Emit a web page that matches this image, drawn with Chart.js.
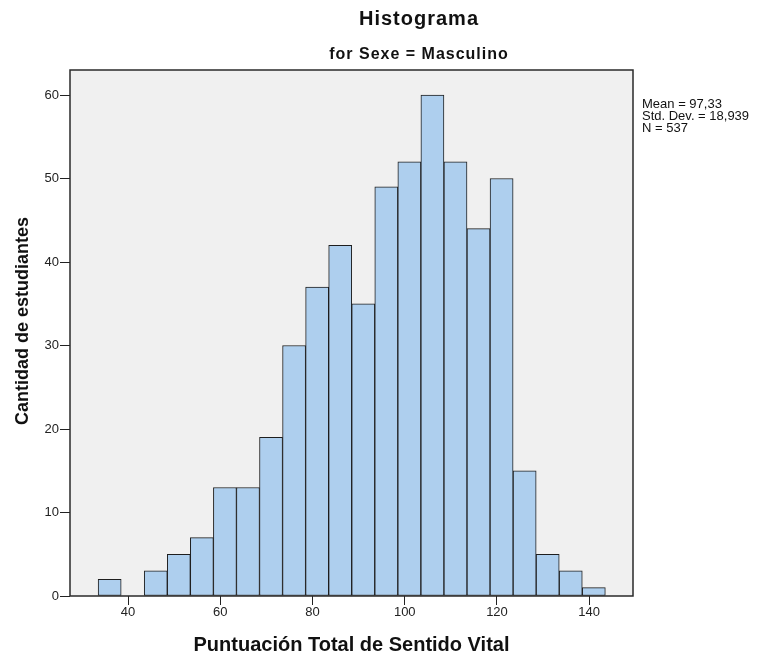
<!DOCTYPE html>
<html>
<head>
<meta charset="utf-8">
<script src="https://cdn.jsdelivr.net/npm/chart.js@4.4.1/dist/chart.umd.min.js"></script>
<style>
    body { margin: 0; background: #fff; }
    #wrap { width: 769px; height: 659px; }
</style>
</head>
<body>
<div id="wrap"><canvas id="hist-js" width="769" height="659"></canvas></div>
<script>
// bin centres (width 5) and counts
const binCenters = [36, 41, 46, 51, 56, 61, 66, 71, 76, 81, 86, 91, 96, 101, 106, 111, 116, 121, 126, 131, 136, 141];
const counts = [2, 0, 3, 5, 7, 13, 13, 19, 30, 37, 42, 35, 49, 52, 60, 52, 44, 50, 15, 5, 3, 1];
const xTicks = [40, 60, 80, 100, 120, 140];
const yTicks = [0, 10, 20, 30, 40, 50, 60];
const statsLines = ['Mean = 97,33', 'Std. Dev. = 18,939', 'N = 537'];

const FONT = '"Liberation Sans", Arial, sans-serif';

const frame = {
    id: 'frame',
    beforeDatasetsDraw(chart) {
        const { ctx, chartArea: a } = chart;
        ctx.save();
        ctx.fillStyle = '#f0f0f0';
        ctx.fillRect(a.left, a.top, a.right - a.left, a.bottom - a.top);
        ctx.restore();
    },
    afterDraw(chart) {
        const { ctx, chartArea: a } = chart;
        ctx.save();
        ctx.strokeStyle = '#2a2a2a';
        ctx.lineWidth = 1.5;
        ctx.strokeRect(a.left, a.top, a.right - a.left, a.bottom - a.top);

        ctx.fillStyle = '#111';
        ctx.textAlign = 'center';
        ctx.textBaseline = 'middle';
        ctx.letterSpacing = '1px';
        ctx.font = 'bold 20px ' + FONT;
        ctx.fillText('Histograma', 419, 19);
        ctx.font = 'bold 16px ' + FONT;
        ctx.fillText('for Sexe = Masculino', 419, 55);
        ctx.letterSpacing = '0px';

        // y axis title
        ctx.save();
        ctx.translate(23, 321);
        ctx.rotate(-Math.PI / 2);
        ctx.font = 'bold 18px ' + FONT;
        ctx.fillText('Cantidad de estudiantes', 0, 0);
        ctx.restore();

        ctx.textAlign = 'left';
        ctx.font = '13px ' + FONT;
        statsLines.forEach((t, i) => ctx.fillText(t, 642, 104 + i * 12));
        ctx.restore();
    }
};

new Chart(document.getElementById('hist-js').getContext('2d'), {
    type: 'bar',
    data: {
        datasets: [{
            data: binCenters.map((x, i) => ({ x: x, y: counts[i] })),
            backgroundColor: '#aecfee',
            borderColor: '#1e1e1e',
            borderWidth: 1,
            borderSkipped: false,
            barPercentage: 1,
            categoryPercentage: 1
        }]
    },
    options: {
        responsive: false,
        animation: false,
        layout: { padding: { top: 70, right: 136, left: 0, bottom: 0 } },
        plugins: {
            legend: { display: false },
            tooltip: { enabled: false }
        },
        scales: {
            x: {
                type: 'linear',
                min: 27.4,
                max: 149.5,
                offset: false,
                afterBuildTicks: s => { s.ticks = xTicks.map(v => ({ value: v })); },
                afterFit: s => { s.height = 63; },
                grid: { offset: false, drawOnChartArea: false, drawTicks: true, tickLength: 9, color: '#222' },
                border: { display: false },
                ticks: { padding: 0, color: '#222', font: { family: FONT, size: 13 } },
                title: {
                    display: true,
                    text: 'Puntuación Total de Sentido Vital',
                    color: '#111',
                    font: { family: FONT, size: 20, weight: 'bold' },
                    padding: { top: 0, bottom: 2 }
                }
            },
            y: {
                min: 0,
                max: 63,
                afterBuildTicks: s => { s.ticks = yTicks.map(v => ({ value: v })); },
                afterFit: s => { s.width = 70; },
                grid: { drawOnChartArea: false, drawTicks: true, tickLength: 10, color: '#222' },
                border: { display: false },
                ticks: { padding: 1, color: '#222', font: { family: FONT, size: 13 } }
            }
        }
    },
    plugins: [frame]
});
</script>
</body>
</html>
